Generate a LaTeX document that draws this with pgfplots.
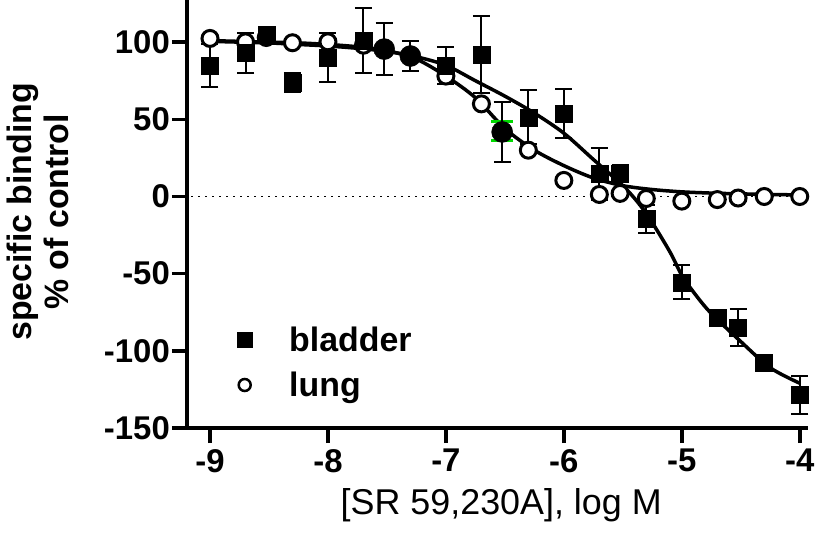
\documentclass[border=0pt]{standalone}
\usepackage{fontspec}
\setmainfont{Liberation Sans}
\usepackage{pgfplots}
\pgfplotsset{compat=1.18}
\usepackage{pgfplotstable}

\pgfplotstableread{
x y e
-9 85 14
-8.699 93 13
-8.523 104.5 4
-8.301 74 6
-8 90 16
-7.699 101 21
-7 85 12
-6.699 92 25
-6.301 51.3 17.5
-6 53.7 16
-5.699 14.7 17
-5.523 14.7 5.5
-5.301 -14.5 9
-5 -55.6 11
-4.699 -78.8 2
-4.523 -84.8 12
-4.301 -107.6 2
-4 -128.6 12.3
}\bladder

\pgfplotstableread{
x y e
-7.523 95.5 17
-7.301 91 10
-6.523 41.8 19.7
}\bladderfilled

\pgfplotstableread{
x y
-9 102.4
-8.699 100.2
-8.523 103
-8.301 99.6
-8 100.2
-7.699 98
-7.523 95.5
-7.301 91
-7 78
-6.699 60
-6.523 42
-6.301 30
-6 10.4
-5.699 1.3
-5.523 2
-5.301 -1.3
-5 -3
-4.699 -2
-4.523 -1
-4.301 0
-4 0
}\lung

\begin{document}
\begin{tikzpicture}
\begin{axis}[
  scale only axis, width=621bp, height=428bp,
  xmin=-9.195, xmax=-3.93, ymin=-150, ymax=127.3,
  axis lines*=left,
  axis line style={line width=4bp, black},
  every tick/.style={black, line width=3.5bp},
  major tick length=15bp, tick align=outside,
  xtick={-9,-8,-7,-6,-5,-4}, ytick={-150,-100,-50,0,50,100},
  xticklabels={-9,-8,-7,-6,-5,-4},
  yticklabels={-150,-100,-50,0,50,100},
  tick label style={font=\bfseries\fontsize{33}{38}\selectfont},
  yticklabel style={inner sep=2bp},
  xticklabel style={inner sep=6bp},
  xlabel={[SR 59,230A], log M},
  xlabel style={at={(axis description cs:0.506,-0.203)}, anchor=base, font=\fontsize{36}{40}\selectfont},
  ylabel={specific binding\\\% of control},
  ylabel style={at={(axis description cs:-0.2407,0.505)}, anchor=center, align=center, font=\bfseries\fontsize{34}{37}\selectfont},
  clip=false,
  legend style={draw=none, fill=none, at={(axis cs:-8.771,-84.4)}, anchor=north west, inner sep=0pt, row sep=19bp, column sep=37bp, font=\bfseries\fontsize{34}{40}\selectfont, nodes={inner sep=0pt}},
  legend cell align=left,
]
% zero line
\addplot[forget plot, line width=1.5bp, dash pattern=on 1.5bp off 5.5bp, black] coordinates {(-9.16,0) (-3.93,0)};
% fitted curves
\addplot[forget plot, black, line width=3.5bp, smooth] coordinates {
(-9.0,100.5) (-8.75,100) (-8.5,99.5) (-8.25,98.5) (-8,97.5) (-7.75,96) (-7.5,94) (-7.25,90.5) (-7,85) (-6.75,75) (-6.5,65) (-6.25,54) (-6,41) (-5.75,24) (-5.5,7) (-5.36,-5) (-5.25,-17) (-5.1,-36) (-5,-51) (-4.9,-62) (-4.76,-75) (-4.5,-94) (-4.25,-111) (-4,-121)};
\addplot[forget plot, black, line width=3.5bp, smooth] coordinates {
(-9,101) (-8.75,100.5) (-8.5,100) (-8.25,99.5) (-8,98.5) (-7.75,97) (-7.5,94.5) (-7.25,89) (-7,78) (-6.75,64) (-6.5,44) (-6.25,30) (-6,20) (-5.75,12) (-5.5,7) (-5.25,4.5) (-5,3) (-4.75,2.2) (-4.5,1.7) (-4.25,1.3) (-4,1)};
% lung
\addplot[forget plot, only marks, mark=*, mark size=8bp, mark options={fill=white, draw=black, line width=3bp}] table[x=x,y=y] {\lung};
% bladder
\addplot[forget plot, only marks, mark=square*, mark size=8.5bp, black, mark options={fill=black, draw=black, line width=0.5bp},
  error bars/.cd, y dir=both, y explicit,
  error bar style={line width=2bp, black},
  error mark options={rotate=90, mark size=8.5bp, line width=2bp, black}]
  table[x=x, y=y, y error=e] {\bladder};
% green caps
\addplot[forget plot, only marks, mark=none,
  error bars/.cd, y dir=both, y explicit,
  error bar style={line width=2.5bp, green!85!black},
  error mark options={rotate=90, mark size=11bp, line width=3bp, green!85!black}]
  coordinates {(-6.523,42.5) +- (0,6.2)};
\addplot[forget plot, only marks, mark=*, mark size=10.5bp, black, mark options={fill=black, draw=black, line width=0.5bp},
  error bars/.cd, y dir=both, y explicit,
  error bar style={line width=2bp, black},
  error mark options={rotate=90, mark size=8.5bp, line width=2bp, black}]
  table[x=x, y=y, y error=e] {\bladderfilled};
\addlegendimage{only marks, mark=square*, mark size=7.5bp, black, mark options={line width=0bp}}
\addlegendentry{bladder}
\addlegendimage{only marks, mark=*, mark size=6bp, mark options={fill=white, draw=black, line width=2.5bp}}
\addlegendentry{lung}
\end{axis}
\pgfresetboundingbox
\path (current axis.south west) ++(-187bp,-109bp) rectangle ++(827bp,537bp);
\end{tikzpicture}
\end{document}
